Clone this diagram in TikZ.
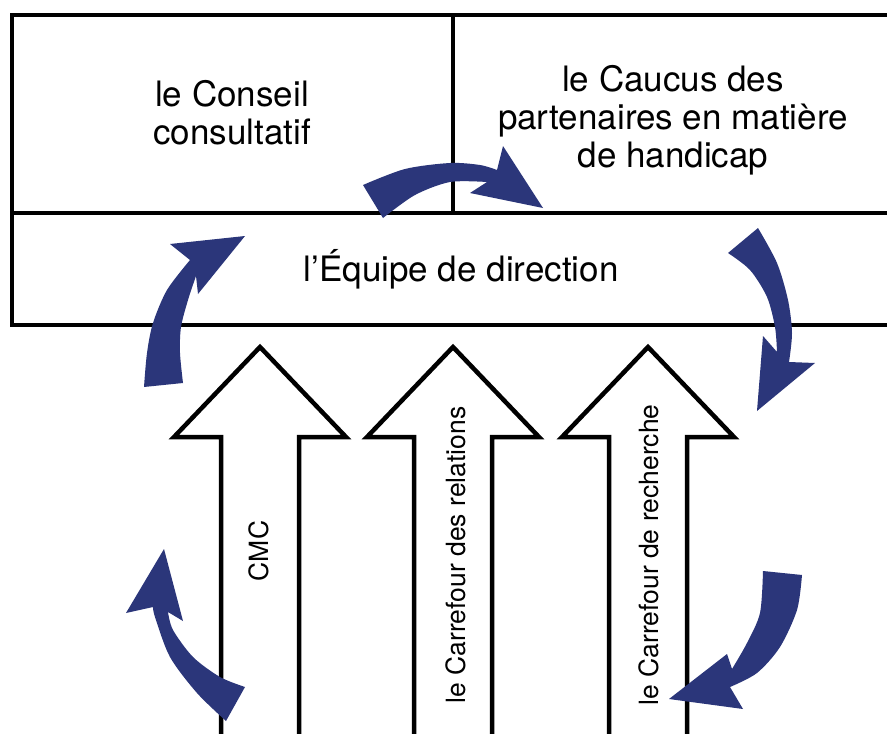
\documentclass[tikz,border=0pt]{standalone}
\usepackage{fontspec}
\setmainfont{TeX Gyre Heros}
\definecolor{navy}{RGB}{43,54,122}
\begin{document}
\begin{tikzpicture}[x=1pt,y=-1pt,
  frame/.style={line width=4.5pt, line join=miter},
  blockarrow/.pic={\draw[draw=black, fill=white, line width=4.5pt, line join=miter]
      (-39,400) -- (-39,90) -- (-86,90) -- (0,0) -- (86,90) -- (39,90) -- (39,400) -- cycle;},
  bluearrow/.style={fill=navy},
  boxtext/.style={font=\fontsize{35}{38}\selectfont, align=center, inner sep=0pt},
  sidetext/.style={font=\fontsize{26.5}{30}\selectfont, rotate=90, inner sep=0pt}]
\clip (0,0) rectangle (887,734);
\fill[white] (0,0) rectangle (887,734);
% frame
\draw[frame] (900,15) -- (12,15) -- (12,325) -- (900,325);
\draw[frame] (12,213) -- (900,213);
\draw[frame] (453,15) -- (453,213);
% box texts
\node[boxtext] (conseil) at (232,113) {le Conseil\\consultatif};
\node[boxtext] (caucus) at (673,120) {le Caucus des\\partenaires en matière\\de handicap};
\node[boxtext] (equipe) at (461,269) {l’Équipe de direction};
% block arrows
\pic at (260,347) {blockarrow};
\pic at (453,347) {blockarrow};
\pic at (648,347) {blockarrow};
\node[sidetext] (cmc) at (259,551) {CMC};
\node[sidetext] (relations) at (456,555) {le Carrefour des relations};
\node[sidetext] (recherche) at (649,555) {le Carrefour de recherche};
% blue curved arrows
% A: top
\fill[bluearrow] plot[smooth] coordinates {(363,185) (405,169) (450,163) (480,165) (497,170)}
  -- (503,146) -- (543,208) -- (470,193) --
  plot[smooth] coordinates {(487,182) (450,182) (415,195) (383,218)} -- cycle;
% B: left upper
\fill[bluearrow] plot[smooth] coordinates {(144,387) (147,353) (153,323) (167,290) (190,260)}
  -- (170,244) -- (245,236) -- (198,294) --
  plot[smooth] coordinates {(196,276) (188,300) (181,327) (180,353) (183,383)} -- cycle;
% C: right upper
\fill[bluearrow] plot[smooth] coordinates {(758,228) (777,263) (788,300) (792,333) (789,362)}
  -- (815,363) -- (757,411) -- (763,336) --
  plot[smooth] coordinates {(777,352) (775,327) (767,297) (750,270) (728,253)} -- cycle;
% D: left lower
\fill[bluearrow] plot[smooth] coordinates {(226,721) (197,693) (170,657) (155,617) (153,607)}
  -- (126,613) -- (164,549) -- (183,621) --
  plot[smooth] coordinates {(168,612) (173,630) (193,657) (220,677) (245,687)} -- cycle;
% E: right lower
\fill[bluearrow] plot[smooth] coordinates {(802,575) (797,610) (780,647) (757,673) (730,687)}
  -- (743,709) -- (669,699) -- (727,654) --
  plot[smooth] coordinates {(732,669) (747,643) (760,613) (763,571)} -- cycle;
\end{tikzpicture}
\end{document}
